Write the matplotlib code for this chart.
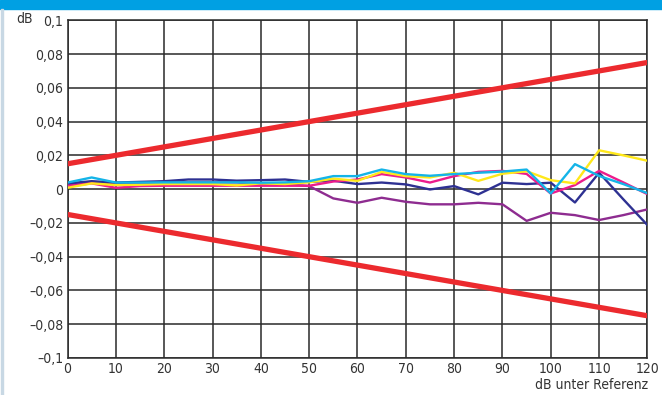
import matplotlib.pyplot as plt
from matplotlib.patches import Rectangle
from matplotlib.ticker import FuncFormatter

# level in dB below reference
x = [0, 5, 10, 15, 20, 25, 30, 35, 40, 45, 50, 55, 60,
     65, 70, 75, 80, 85, 90, 95, 100, 105, 110, 115, 120]

cyan = [0.0039, 0.0069, 0.0039, 0.0039, 0.0040, 0.0040, 0.0040, 0.0040, 0.0038, 0.0040, 0.0047, 0.0077, 0.0077,
        0.0116, 0.0089, 0.0079, 0.0089, 0.0097, 0.0104, 0.0116, -0.0026, 0.0148, 0.0078, 0.0030, -0.0024]
yellow = [0.0008, 0.0034, 0.0024, 0.0026, 0.0030, 0.0030, 0.0030, 0.0022, 0.0034, 0.0030, 0.0040, 0.0062, 0.0049,
          0.0102, 0.0077, 0.0069, 0.0097, 0.0049, 0.0091, 0.0106, 0.0053, 0.0034, 0.0230, 0.0200, 0.0168]
magenta = [0.0018, 0.0034, 0.0008, 0.0018, 0.0020, 0.0020, 0.0020, 0.0020, 0.0020, 0.0020, 0.0020, 0.0045, 0.0057,
           0.0089, 0.0069, 0.0039, 0.0077, 0.0102, 0.0108, 0.0090, -0.0026, 0.0024, 0.0108, 0.0040, -0.0030]
navy = [0.0034, 0.0047, 0.0039, 0.0043, 0.0047, 0.0057, 0.0057, 0.0050, 0.0053, 0.0057, 0.0043, 0.0050, 0.0030,
        0.0039, 0.0028, -0.0002, 0.0018, -0.0031, 0.0038, 0.0030, 0.0038, -0.0079, 0.0097, -0.0060, -0.0213]
purple = [0.0028, 0.0043, 0.0034, 0.0034, 0.0040, 0.0040, 0.0040, 0.0040, 0.0030, 0.0030, 0.0018, -0.0055, -0.0081,
          -0.0051, -0.0075, -0.0090, -0.0090, -0.0081, -0.0090, -0.0188, -0.0140, -0.0154, -0.0183, -0.0154, -0.0120]

# tolerance limits
limit_x = [0, 120]
upper_limit = [0.015, 0.075]
lower_limit = [-0.015, -0.075]

plt.rcParams["font.family"] = ["DejaVu Sans"]
plt.rcParams["font.stretch"] = "condensed"

fig = plt.figure(figsize=(6.62, 3.95), dpi=100)
ax = fig.add_axes([0.102, 0.0937, 0.876, 0.855])

# frame decoration of the page
fig.patches.append(Rectangle((0, 0.978), 1, 0.022, transform=fig.transFigure,
                             color="#00a0e3", zorder=0))
fig.patches.append(Rectangle((0.002, 0), 0.003, 0.978, transform=fig.transFigure,
                             color="#c8d8e4", zorder=0))

ax.plot(x, purple, color="#8e2c90", lw=1.7, zorder=3)
ax.plot(x, navy, color="#2e3192", lw=1.7, zorder=3)
ax.plot(x, magenta, color="#ec1c8c", lw=1.7, zorder=3)
ax.plot(x, yellow, color="#ffe81a", lw=1.7, zorder=3)
ax.plot(x, cyan, color="#14b4e8", lw=1.7, zorder=4)

ax.plot(limit_x, upper_limit, color="#ec2a2e", lw=3.8, zorder=5, solid_capstyle="butt")
ax.plot(limit_x, lower_limit, color="#ec2a2e", lw=3.8, zorder=5, solid_capstyle="butt")

ax.set_xlim(0, 120)
ax.set_ylim(-0.1, 0.1)
ax.set_xticks(range(0, 121, 10))
ax.set_yticks([-0.1, -0.08, -0.06, -0.04, -0.02, 0, 0.02, 0.04, 0.06, 0.08, 0.1])


def de_fmt(v, pos):
    if abs(v) < 1e-9:
        return "0"
    s = f"{abs(v):.2f}".rstrip("0").replace(".", ",")
    return ("\u2013" if v < 0 else "") + s


ax.yaxis.set_major_formatter(FuncFormatter(de_fmt))
ax.tick_params(length=0, labelsize=10, colors="#333333", pad=3)
ax.grid(True, color="#2a2a2a", lw=1.1)
ax.set_axisbelow(True)
for sp in ax.spines.values():
    sp.set_color("#2a2a2a")
    sp.set_linewidth(1.1)

fig.text(16 / 662, 1 - 19 / 395, "dB", fontsize=10, color="#333333", va="center", ha="left")
fig.text(648 / 662, 1 - 385 / 395, "dB unter Referenz", fontsize=10, color="#333333",
         va="center", ha="right")

fig.savefig("out.png", dpi=100)
